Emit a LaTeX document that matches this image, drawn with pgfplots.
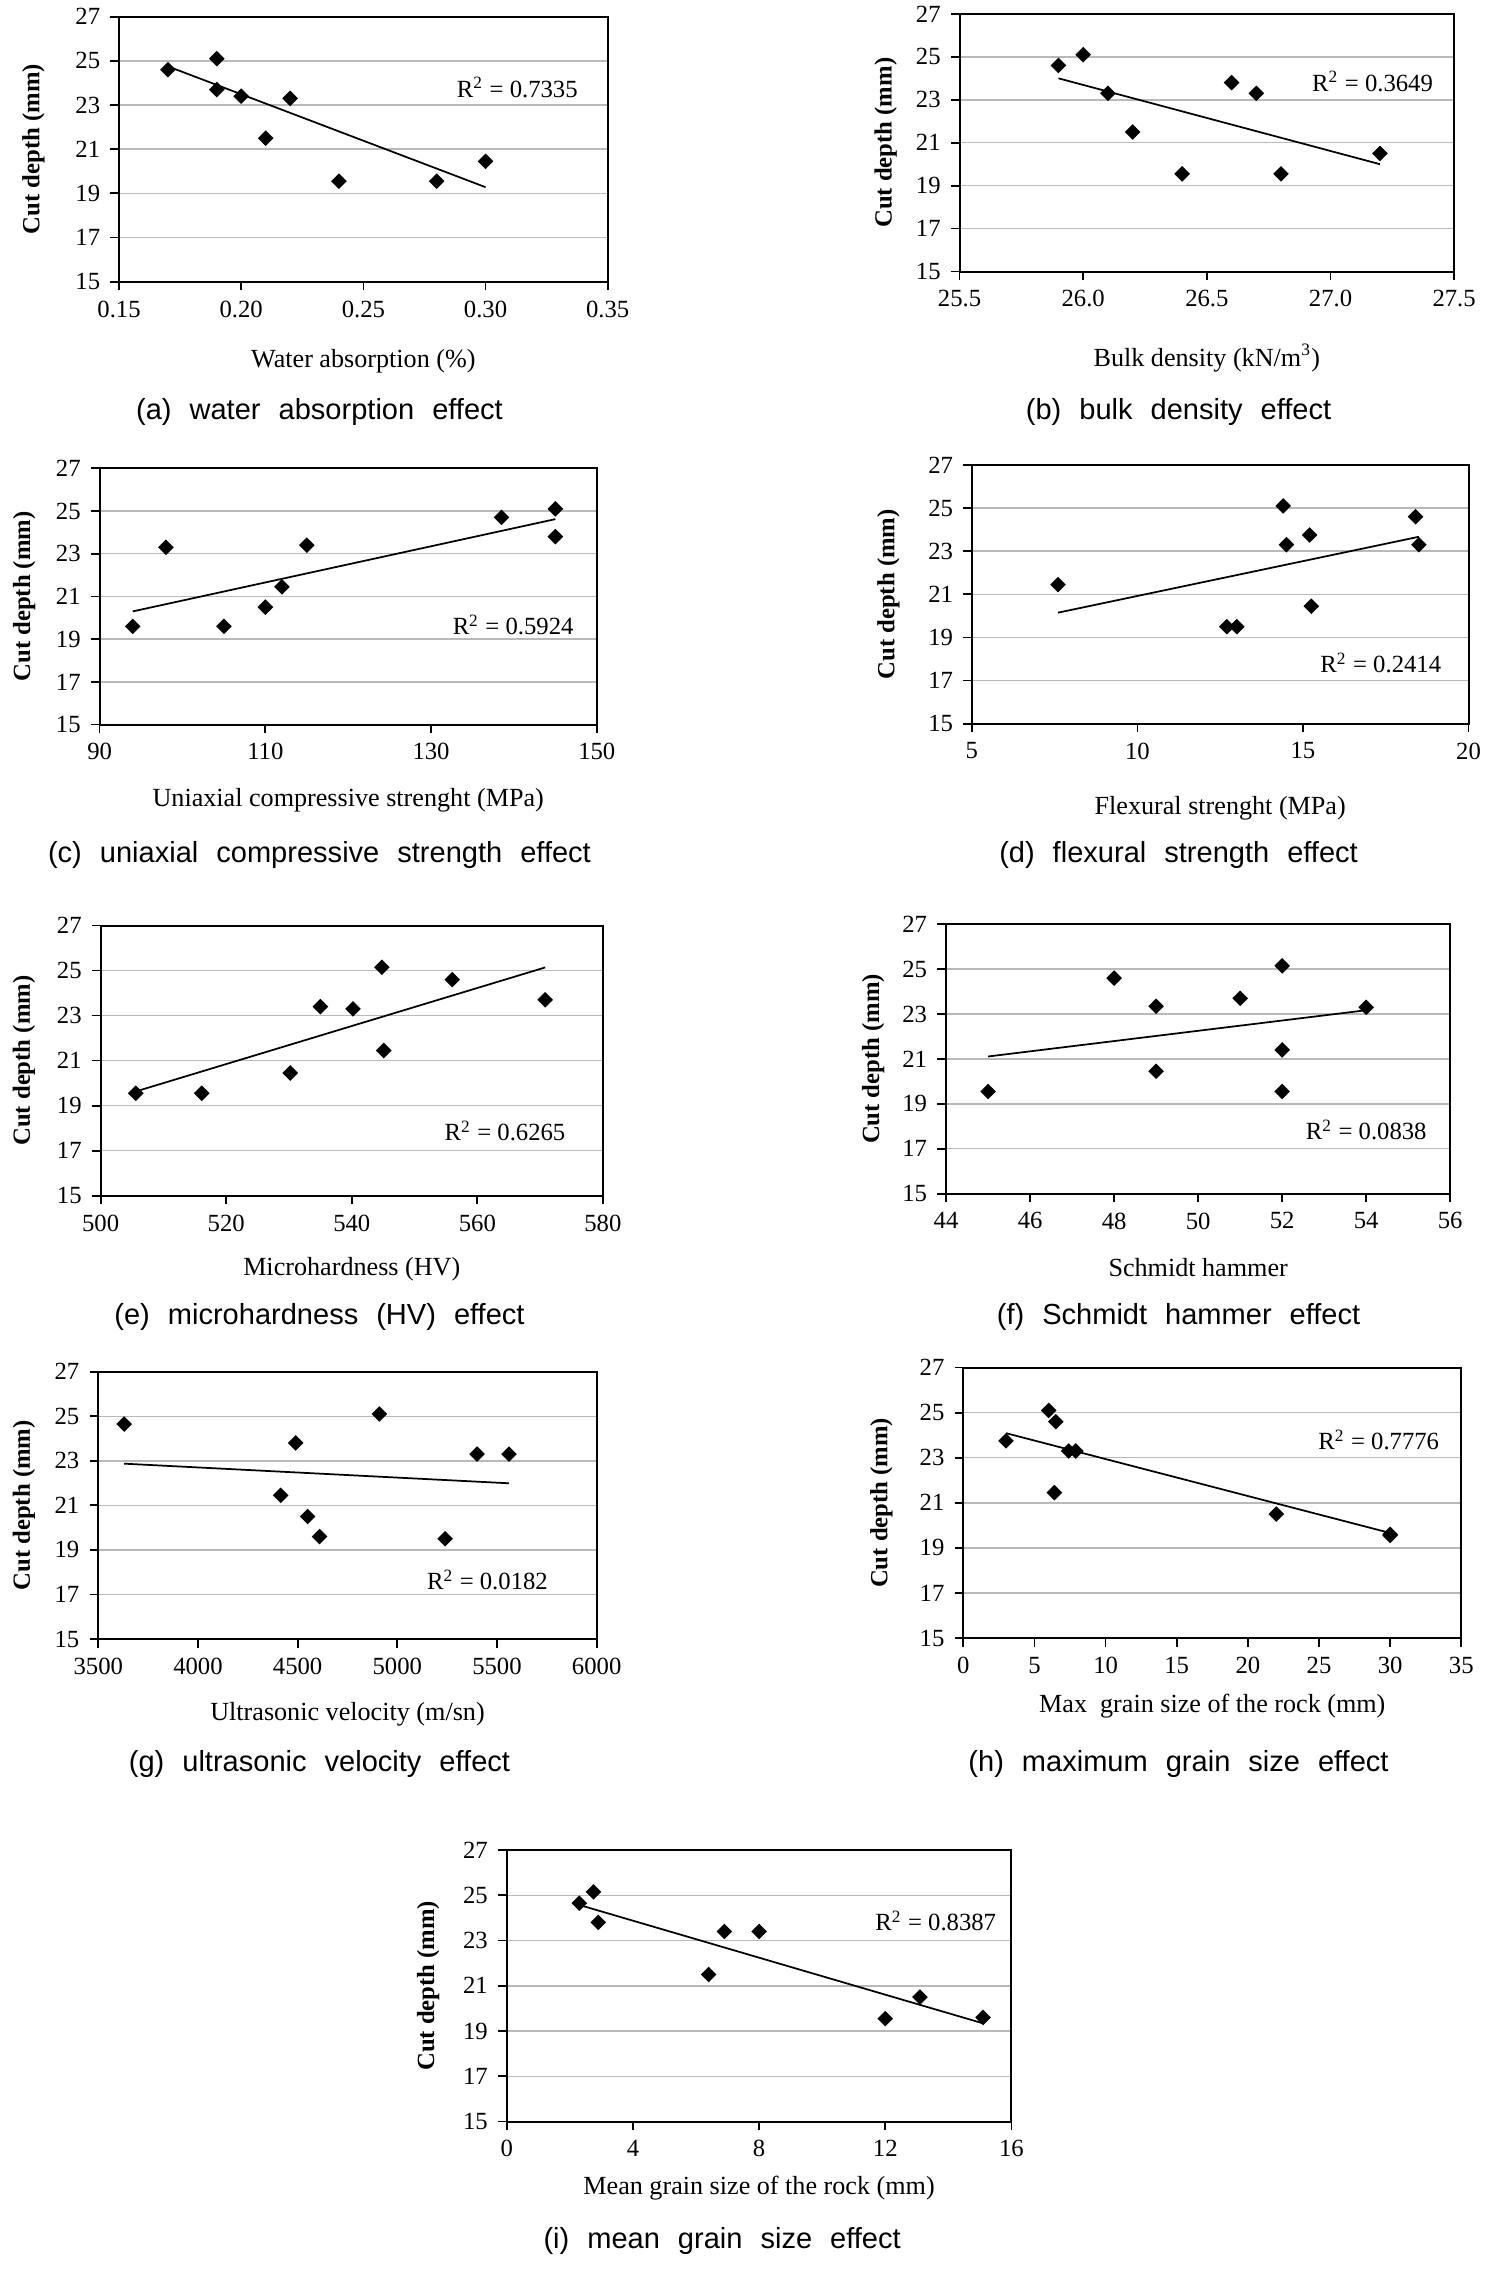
\documentclass[border=0pt]{standalone}
\usepackage{fontspec}
\setmainfont{Liberation Serif}
\newfontfamily\capfont{Liberation Sans}
\usepackage{pgfplots}
\pgfplotsset{compat=1.18}
\pgfplotsset{
  panel/.style={
    scale only axis, anchor=north west,
    ymin=15, ymax=27, ytick={15,17,19,21,23,25,27},
    ymajorgrids, major grid style={draw=gray!55, line width=0.5pt},
    tick align=outside, tick pos=left, major tick length=3pt,
    every tick/.style={black, line width=0.6pt},
    axis line style={line width=0.7pt},
    tick label style={font=\fontsize{8.5}{10}\selectfont},
    xlabel style={font=\fontsize{9}{11}\selectfont},
    ylabel style={font=\bfseries\fontsize{8.5}{10}\selectfont},
    /pgf/number format/assume math mode=true,
    /pgf/number format/1000 sep={},
    ylabel={Cut depth (mm)},
    clip=false,
  },
  xl/.style={xlabel style={at={([yshift=-#1]axis description cs:0.5,0)},anchor=center}},
  yl/.style={ylabel style={at={([xshift=-#1]axis description cs:0,0.5)},anchor=center}},
  pts/.style={only marks, mark=square*, mark size=1.7pt, mark options={rotate=45}, black},
  trend/.style={no marks, black, line width=0.6pt},
}
\newcommand{\rsq}[1]{R\textsuperscript{2} = #1}
\newcommand{\pcap}[3]{\node[font=\capfont\fontsize{10}{12}\selectfont] at (#1pt,-#2pt) {\spaceskip=6.2pt #3};}
\tikzset{rs/.style={font=\fontsize{8.5}{10}\selectfont}}
\begin{document}
\begin{tikzpicture}
\useasboundingbox (0,0) rectangle (512pt,-783pt);
% (a)
\begin{axis}[panel, at={(41pt,-5.75pt)}, width=168.25pt, height=91.25pt,
  xmin=0.15, xmax=0.35, xtick={0.15,0.2,0.25,0.3,0.35}, xticklabels={0.15,0.20,0.25,0.30,0.35},
  xlabel={Water absorption (\%)}, xl=27.5pt, yl=29.5pt]
\addplot[pts] coordinates {(0.17,24.6) (0.19,25.1) (0.19,23.7) (0.20,23.4) (0.21,21.5) (0.22,23.3) (0.24,19.55) (0.28,19.55) (0.30,20.45)};
\addplot[trend] coordinates {(0.17,24.75) (0.30,19.28)};
\node[rs] at (axis cs:0.313,23.8) {\rsq{0.7335}};
\end{axis}
% (b)
\begin{axis}[panel, at={(330.4pt,-4.8pt)}, width=170.3pt, height=88.7pt,
  xmin=25.5, xmax=27.5, xtick={25.5,26,26.5,27,27.5}, xticklabels={25.5,26.0,26.5,27.0,27.5},
  xlabel={Bulk density (kN/m\textsuperscript{3})}, xl=29.8pt, yl=25.4pt]
\addplot[pts] coordinates {(25.9,24.6) (26.0,25.1) (26.1,23.3) (26.2,21.5) (26.4,19.55) (26.6,23.8) (26.7,23.3) (26.8,19.55) (27.2,20.5)};
\addplot[trend] coordinates {(25.9,24.0) (27.2,20.0)};
\node[rs] at (axis cs:27.17,23.85) {\rsq{0.3649}};
\end{axis}
% (c)
\begin{axis}[panel, at={(34.3pt,-161.25pt)}, width=171.2pt, height=88.25pt,
  xmin=90, xmax=150, xtick={90,110,130,150},
  xlabel={Uniaxial compressive strenght (MPa)}, xl=25.9pt, yl=26pt]
\addplot[pts] coordinates {(94,19.6) (98,23.3) (105,19.6) (110,20.5) (112,21.45) (115,23.4) (138.5,24.7) (145,25.1) (145,23.8)};
\addplot[trend] coordinates {(94,20.3) (145,24.62)};
\node[rs] at (axis cs:139.9,19.68) {\rsq{0.5924}};
\end{axis}
% (d)
\begin{axis}[panel, at={(334.65pt,-160.1pt)}, width=171pt, height=89.1pt,
  xmin=5, xmax=20, xtick={5,10,15,20},
  xlabel={Flexural strenght (MPa)}, xl=29pt, yl=28.7pt]
\addplot[pts] coordinates {(7.6,21.45) (12.7,19.5) (13.0,19.5) (14.4,25.1) (14.5,23.3) (15.2,23.75) (15.25,20.45) (18.4,24.6) (18.5,23.3)};
\addplot[trend] coordinates {(7.6,20.15) (18.5,23.67)};
\node[rs] at (axis cs:17.35,17.81) {\rsq{0.2414}};
\end{axis}
% (e)
\begin{axis}[panel, at={(34.65pt,-318.7pt)}, width=172.95pt, height=93pt,
  xmin=500, xmax=580, xtick={500,520,540,560,580},
  xlabel={Microhardness (HV)}, xl=25.3pt, yl=26.4pt]
\addplot[pts] coordinates {(505.6,19.55) (516.1,19.55) (530.2,20.45) (535,23.4) (540.2,23.3) (544.8,25.15) (545.1,21.45) (556,24.6) (570.8,23.7)};
\addplot[trend] coordinates {(505.6,19.63) (570.8,25.14)};
\node[rs] at (axis cs:564.4,17.86) {\rsq{0.6265}};
\end{axis}
% (f)
\begin{axis}[panel, at={(325.75pt,-318.25pt)}, width=173.6pt, height=92.75pt,
  xmin=44, xmax=56, xtick={44,46,48,50,52,54,56},
  xlabel={Schmidt hammer}, xl=25.5pt, yl=25.1pt]
\addplot[pts] coordinates {(45,19.55) (48,24.6) (49,23.35) (49,20.45) (51,23.7) (52,25.15) (52,21.4) (52,19.55) (54,23.3)};
\addplot[trend] coordinates {(45,21.11) (54,23.17)};
\node[rs] at (axis cs:54.0,17.85) {\rsq{0.0838}};
\end{axis}
% (g)
\begin{axis}[panel, at={(33.85pt,-472.3pt)}, width=171.6pt, height=92.05pt,
  xmin=3500, xmax=6000, xtick={3500,4000,4500,5000,5500,6000},
  scaled x ticks=false,
  xlabel={Ultrasonic velocity (m/sn)}, xl=26pt, yl=25.6pt]
\addplot[pts] coordinates {(3630,24.65) (4415,21.45) (4490,23.8) (4550,20.5) (4610,19.6) (4910,25.1) (5240,19.5) (5400,23.3) (5560,23.3)};
\addplot[trend] coordinates {(3630,22.87) (5560,21.99)};
\node[rs] at (axis cs:5452,17.66) {\rsq{0.0182}};
\end{axis}
% (h)
\begin{axis}[panel, at={(331.7pt,-470.9pt)}, width=171.45pt, height=93.1pt,
  xmin=0, xmax=35, xtick={0,5,10,15,20,25,30,35},
  xlabel={Max\ \ grain size of the rock (mm)}, xl=23.5pt, yl=28.2pt]
\addplot[pts] coordinates {(3.0,23.75) (6.0,25.1) (6.4,21.45) (6.5,24.6) (7.4,23.3) (7.9,23.3) (22.0,20.5) (30.0,19.55) (30.0,19.6)};
\addplot[trend] coordinates {(3.0,24.09) (30.0,19.66)};
\node[rs] at (axis cs:29.2,23.8) {\rsq{0.7776}};
\end{axis}
% (i)
\begin{axis}[panel, at={(174.5pt,-637pt)}, width=173.75pt, height=93.5pt,
  xmin=0, xmax=16, xtick={0,4,8,12,16},
  xlabel={Mean grain size of the rock (mm)}, xl=22.9pt, yl=27.1pt]
\addplot[pts] coordinates {(2.3,24.65) (2.75,25.15) (2.9,23.8) (6.4,21.5) (6.9,23.4) (8.0,23.4) (12.0,19.55) (13.1,20.5) (15.1,19.6)};
\addplot[trend] coordinates {(2.4,24.53) (15.1,19.34)};
\node[rs] at (axis cs:13.6,23.86) {\rsq{0.8387}};
\end{axis}
\pcap{110}{142}{(a) water absorption effect}
\pcap{405.8}{142}{(b) bulk density effect}
\pcap{110}{294.25}{(c) uniaxial compressive strength effect}
\pcap{405.8}{294.25}{(d) flexural strength effect}
\pcap{110}{453.5}{(e) microhardness (HV) effect}
\pcap{405.8}{453.5}{(f) Schmidt hammer effect}
\pcap{110}{607.5}{(g) ultrasonic velocity effect}
\pcap{405.8}{607.5}{(h) maximum grain size effect}
\pcap{248.65}{771.75}{(i) mean grain size effect}
\end{tikzpicture}
\end{document}
